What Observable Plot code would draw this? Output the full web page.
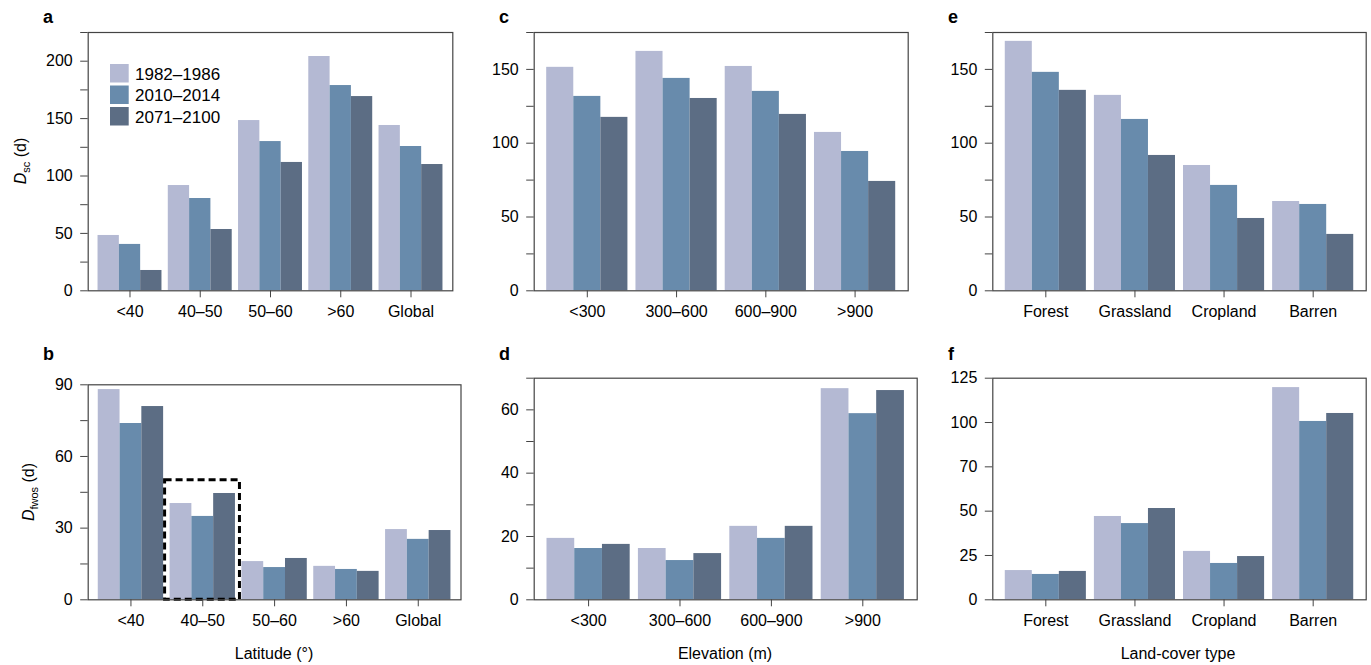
<!DOCTYPE html>
<html><head><meta charset="utf-8">
<script src="https://cdn.jsdelivr.net/npm/d3@7"></script>
<script src="https://cdn.jsdelivr.net/npm/@observablehq/plot@0.6"></script>
<style>
html,body{margin:0;padding:0;background:#fff;}
#chart{position:relative;width:1371px;height:665px;overflow:hidden;}
.panel{position:absolute;}
#overlay{position:absolute;left:0;top:0;pointer-events:none;}
</style></head><body><div id="chart"></div>
<script>
// ---------- data ----------
const series = ["1982–1986", "2010–2014", "2071–2100"];
const colors = ["#b4b9d3", "#688bac", "#5c6d84"];

const latCats  = ["<40", "40–50", "50–60", ">60", "Global"];
const elevCats = ["<300", "300–600", "600–900", ">900"];
const landCats = ["Forest", "Grassland", "Cropland", "Barren"];

// a: D_sc by latitude
const scLat1982 = [48.2, 91.7, 148.3, 204.1, 144.0];
const scLat2010 = [40.4, 80.4, 130.0, 178.8, 125.7];
const scLat2071 = [17.7, 53.4, 111.8, 169.2, 110.0];
// b: D_fwos by latitude
const fwosLat1982 = [88.0, 40.3, 16.0, 14.0, 29.4];
const fwosLat2010 = [73.8, 34.9, 13.5, 12.7, 25.3];
const fwosLat2071 = [80.9, 44.5, 17.3, 11.9, 29.0];
// c: D_sc by elevation
const scElev1982 = [151.4, 162.2, 152.0, 107.3];
const scElev2010 = [131.7, 143.9, 135.1, 94.4];
const scElev2071 = [117.5, 130.3, 119.5, 74.1];
// d: D_fwos by elevation
const fwosElev1982 = [19.4, 16.2, 23.2, 66.7];
const fwosElev2010 = [16.2, 12.4, 19.4, 58.8];
const fwosElev2071 = [17.5, 14.6, 23.2, 66.1];
// e: D_sc by land cover
const scLand1982 = [169.0, 132.4, 84.9, 60.5];
const scLand2010 = [148.0, 116.1, 71.4, 58.5];
const scLand2071 = [135.8, 91.7, 49.0, 38.2];
// f: D_fwos by land cover
const fwosLand1982 = [16.5, 47.0, 27.3, 119.7];
const fwosLand2010 = [14.3, 43.0, 20.5, 100.6];
const fwosLand2071 = [16.0, 51.5, 24.4, 105.1];

// highlighted group in b
const highlightCat = "40–50";
const highlightTop = 50;

// tick values and labels
const ticksA = [0, 25, 50, 75, 100, 125, 150, 175, 200, 225];
const labelsA = ["0", "", "50", "", "100", "", "150", "", "200", ""];
const ticksB = [0, 15, 30, 45, 60, 75, 90];
const labelsB = ["0", "", "30", "", "60", "", "90"];
const ticksC = [0, 25, 50, 75, 100, 125, 150, 175];
const labelsC = ["0", "", "50", "", "100", "", "150", ""];
const ticksD = [0, 10, 20, 30, 40, 50, 60, 70];
const labelsD = ["0", "", "20", "", "40", "", "60", ""];
const ticksF = [0, 25, 50, 75, 100, 125];
const labelsF = ["0", "25", "50", "70", "100", "125"];

const panelLetters = ["a", "b", "c", "d", "e", "f"];
const xTitles = ["Latitude (°)", "Elevation (m)", "Land-cover type"];

// ---------- drawing ----------
const FONT = '"Liberation Sans", Arial, Helvetica, sans-serif';
const chart = document.getElementById("chart");
const PI = 0.09, PO = 0.14;

function panel(o) {
  const {left, top, width, height, mL, mR, mT, mB, cats, vals, ticks, labels, extra = []} = o;
  const yMax = ticks[ticks.length - 1];
  const band = d3.scaleBand().domain(cats).range([mL, width - mR]).paddingInner(PI).paddingOuter(PO);
  const sub = band.bandwidth() / 3;
  const data = cats.flatMap((c, i) => series.map((s, j) => ({cat: c, series: s, value: vals[j][i]})));
  const labelMap = new Map(ticks.map((t, i) => [t, labels[i]]));
  const bars = series.map((s, j) => Plot.barY(data.filter(d => d.series === s), {
    x: "cat", y: "value", fill: "series", insetLeft: j * sub, insetRight: (2 - j) * sub
  }));
  const svg = Plot.plot({
    width, height, marginLeft: mL, marginRight: mR, marginTop: mT, marginBottom: mB,
    style: {background: "transparent", overflow: "visible", fontFamily: FONT, fontSize: "16px", color: "#000"},
    x: {domain: cats, paddingInner: PI, paddingOuter: PO, round: false, axis: null, label: null},
    y: {domain: [0, yMax], axis: null, label: null},
    color: {domain: series, range: colors},
    marks: [
      ...bars,
      ...extra,
      Plot.frame({stroke: "#444", strokeWidth: 1.2}),
      Plot.axisY({ticks, tickFormat: d => labelMap.get(d), tickSize: 7.5, tickPadding: 8, label: null, stroke: "#444"}),
      Plot.axisX({tickSize: 7, tickPadding: 8, label: null, stroke: "#444"})
    ]
  });
  const div = document.createElement("div");
  div.className = "panel";
  div.style.left = left + "px"; div.style.top = top + "px";
  div.style.width = width + "px"; div.style.height = height + "px";
  div.appendChild(svg);
  chart.appendChild(div);
}

const box = Plot.barY([{cat: highlightCat, value: highlightTop}], {
  x: "cat", y: "value", fill: "none", stroke: "#000", strokeWidth: 3,
  strokeDasharray: "7,4", insetLeft: -5, insetRight: -4.5
});

panel({left: 0, top: 0, width: 460, height: 330, mL: 87.7, mR: 7.7, mT: 32, mB: 39.7,
  cats: latCats, vals: [scLat1982, scLat2010, scLat2071], ticks: ticksA, labels: labelsA});
panel({left: 0, top: 330, width: 470, height: 335, mL: 87.7, mR: 9.5, mT: 54.3, mB: 65.7,
  cats: latCats, vals: [fwosLat1982, fwosLat2010, fwosLat2071], ticks: ticksB, labels: labelsB, extra: [box]});
panel({left: 460, top: 0, width: 460, height: 330, mL: 73.7, mR: 12.3, mT: 32, mB: 39.7,
  cats: elevCats, vals: [scElev1982, scElev2010, scElev2071], ticks: ticksC, labels: labelsC});
panel({left: 460, top: 330, width: 460, height: 335, mL: 73.7, mR: 3.3, mT: 47.7, mB: 65.7,
  cats: elevCats, vals: [fwosElev1982, fwosElev2010, fwosElev2071], ticks: ticksD, labels: labelsD});
panel({left: 910, top: 0, width: 461, height: 330, mL: 82.3, mR: 5.3, mT: 32, mB: 39.7,
  cats: landCats, vals: [scLand1982, scLand2010, scLand2071], ticks: ticksC, labels: labelsC});
panel({left: 910, top: 330, width: 461, height: 335, mL: 82.3, mR: 5.3, mT: 47.7, mB: 65.7,
  cats: landCats, vals: [fwosLand1982, fwosLand2010, fwosLand2071], ticks: ticksF, labels: labelsF});

// ---------- overlay text ----------
const ov = d3.select(chart).append("svg").attr("id", "overlay")
  .attr("width", 1371).attr("height", 665).style("font-family", FONT);

const letterPos = [[43, 23], [43, 360], [499, 23], [499, 360], [948, 23], [948, 360]];
panelLetters.forEach((t, i) => ov.append("text").attr("x", letterPos[i][0]).attr("y", letterPos[i][1])
  .attr("font-weight", "bold").attr("font-size", 18).text(t));

const xTitlePos = [274, 725, 1178];
xTitles.forEach((t, i) => ov.append("text").attr("x", xTitlePos[i]).attr("y", 659)
  .attr("text-anchor", "middle").attr("font-size", 16).text(t));

function yTitle(x, y, subText) {
  const t = ov.append("text").attr("transform", `translate(${x},${y}) rotate(-90)`)
    .attr("text-anchor", "middle").attr("font-size", 16);
  t.append("tspan").attr("font-style", "italic").text("D");
  t.append("tspan").attr("font-size", 11).attr("dy", 4).text(subText);
  t.append("tspan").attr("dy", -4).text(" (d)");
}
yTitle(26, 161, "sc");
yTitle(34, 492, "fwos");

// legend
const lg = ov.append("g");
series.forEach((s, i) => {
  lg.append("rect").attr("x", 110).attr("y", 64 + i * 21.5).attr("width", 18.7).attr("height", 18.5).attr("fill", colors[i]);
  lg.append("text").attr("x", 135).attr("y", 79.5 + i * 21.5).attr("font-size", 17).text(s);
});
</script></body></html>
